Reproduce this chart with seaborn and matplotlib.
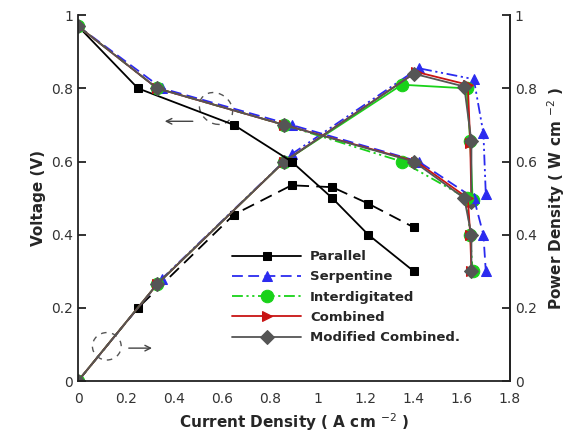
import numpy as np
import pandas as pd
import matplotlib
matplotlib.use("Agg")
import matplotlib.pyplot as plt
from matplotlib.patches import Ellipse
import seaborn as sns

# Polarization (V) and power density (W cm-2) curves
voltage = [0.97, 0.80, 0.70, 0.60, 0.50, 0.40, 0.30]

current_parallel = [0, 0.25, 0.65, 0.89, 1.06, 1.21, 1.40]
power_parallel = [0, 0.20, 0.455, 0.535, 0.53, 0.485, 0.42]

current_serpentine = [0, 0.35, 0.89, 1.42, 1.65, 1.69, 1.70]
power_serpentine = [0, 0.28, 0.62, 0.855, 0.825, 0.677, 0.51]

current_interdig = [0, 0.33, 0.86, 1.35, 1.62, 1.635, 1.645]
power_interdig = [0, 0.265, 0.60, 0.81, 0.80, 0.655, 0.495]

current_combined = [0, 0.33, 0.86, 1.41, 1.625, 1.635, 1.64]
power_combined = [0, 0.265, 0.60, 0.845, 0.81, 0.652, 0.49]

current_modified = [0, 0.33, 0.86, 1.40, 1.61, 1.64, 1.64]
power_modified = [0, 0.265, 0.60, 0.84, 0.805, 0.655, 0.49]

x_ticks = [0, 0.2, 0.4, 0.6, 0.8, 1, 1.2, 1.4, 1.6, 1.8]
y_ticks = [0, 0.2, 0.4, 0.6, 0.8, 1]

dashdotdot = (0, (6, 2, 1.2, 2, 1.2, 2))
series = [
    # name, current, power, color, marker, voltage style, power style, marker size
    ("Parallel", current_parallel, power_parallel, "black", "s", "-", (0, (7, 4)), 6),
    ("Serpentine", current_serpentine, power_serpentine, "#2b2bef", "^", (0, (6, 3)), dashdotdot, 7),
    ("Interdigitated", current_interdig, power_interdig, "#19d219", "o", dashdotdot, "-", 9),
    ("Combined", current_combined, power_combined, "#c81414", ">", "-", "-", 7),
    ("Modified Combined.", current_modified, power_modified, "#555555", "D", "-", "-", 7),
]

sns.set_style("white")
plt.rcParams["font.family"] = ["DejaVu Sans"]

fig = plt.figure(figsize=(5.78, 4.34), dpi=100)
ax = fig.add_axes([0.135, 0.122, 0.747, 0.843])
ax2 = ax.twinx()

for name, cur, pw, col, mk, vls, pls, ms in series:
    df = pd.DataFrame({"current": cur, "voltage": voltage, "power": pw})
    sns.lineplot(data=df, x="current", y="voltage", ax=ax, sort=False, estimator=None,
                 color=col, linestyle=vls, linewidth=1.3, marker=mk, markersize=ms,
                 markeredgecolor=col, label=name)
    sns.lineplot(data=df, x="current", y="power", ax=ax2, sort=False, estimator=None,
                 color=col, linestyle=pls, linewidth=1.3, marker=mk, markersize=ms,
                 markeredgecolor=col, legend=False)

for a in (ax, ax2):
    a.set_xlim(0, 1.8)
    a.set_ylim(0, 1)
    a.set_yticks(y_ticks)
    a.set_yticklabels(["0", "0.2", "0.4", "0.6", "0.8", "1"])
    a.tick_params(direction="in", length=6, width=1.3, labelsize=10, colors="#222222",
                  labelcolor="#333333")
    a.spines["top"].set_visible(False)
    for s in ("left", "right", "bottom"):
        a.spines[s].set_linewidth(1.3)
        a.spines[s].set_color("#222222")
    a.grid(False)

ax.set_xticks(x_ticks)
ax.set_xticklabels(["0", "0.2", "0.4", "0.6", "0.8", "1", "1.2", "1.4", "1.6", "1.8"])
ax.tick_params(axis="x", pad=8)
ax.set_xlabel("Current Density ( A cm $^{-2}$ )", fontsize=11, fontweight="bold")
ax.set_ylabel("Voltage (V)", fontsize=11, fontweight="bold")
ax2.set_ylabel("Power Density ( W cm $^{-2}$ )", fontsize=11, fontweight="bold", labelpad=6)
ax2.spines["left"].set_visible(False)
ax2.spines["bottom"].set_visible(False)

# dashed ellipses with arrows marking which axis each curve family belongs to
ax.add_patch(Ellipse((0.575, 0.745), 0.14, 0.085, angle=-10, fill=False,
                     linestyle=(0, (4, 4)), color="#555555", linewidth=1))
ax.annotate("", xy=(0.35, 0.71), xytext=(0.49, 0.71),
            arrowprops=dict(arrowstyle="->", color="#444444", lw=1))
ax.add_patch(Ellipse((0.12, 0.095), 0.12, 0.075, fill=False, linestyle=(0, (4, 4)),
                     color="#555555", linewidth=1))
ax.annotate("", xy=(0.32, 0.09), xytext=(0.2, 0.09),
            arrowprops=dict(arrowstyle="->", color="#444444", lw=1))

leg = ax.legend(loc="upper left", bbox_to_anchor=(0.33, 0.39), frameon=False,
                handlelength=5.2, handletextpad=0.7, labelspacing=0.55,
                prop={"weight": "bold", "size": 9.5})
ax.set_zorder(ax2.get_zorder() + 1)
ax.patch.set_visible(False)

fig.savefig("out.png", dpi=100)
